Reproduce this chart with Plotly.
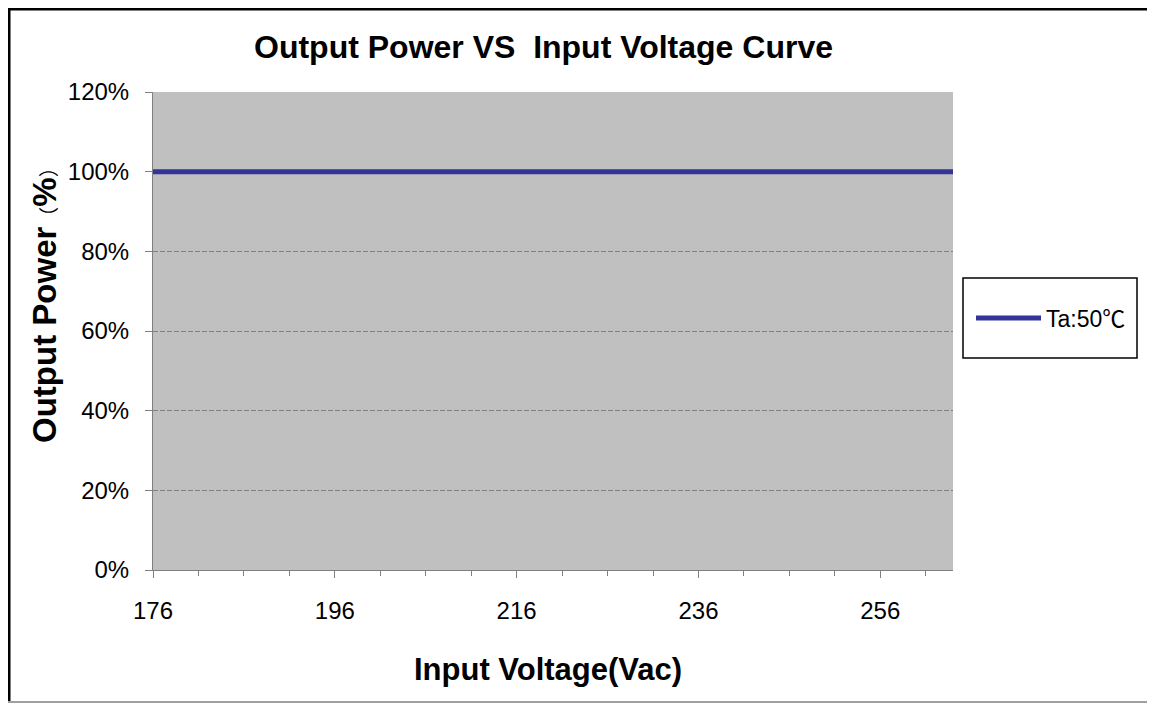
import plotly.graph_objects as go

# Data
voltage = [176, 196, 216, 236, 256, 264]
power_pct = [100, 100, 100, 100, 100, 100]
series_name = "Ta:50℃"
y_ticks = [0, 20, 40, 60, 80, 100, 120]
x_ticks = [176, 196, 216, 236, 256]

# The page places the figure 8px in from the top-left corner;
# positions below are given in screenshot pixels.
OFF = 8
W, H = 1155 - OFF, 704 - OFF
L, R, T, B = 153, 953, 92, 570
PW, PH = R - L, B - T

def px(x):
    return (x - L) / PW

def py(y):
    return (B - y) / PH

FONT = "Arial, 'Liberation Sans', 'Noto Sans CJK SC', sans-serif"

fig = go.Figure()
fig.add_trace(go.Scatter(
    x=voltage, y=power_pct, mode="lines", name=series_name,
    line=dict(color="#333399", width=5),
))

fig.update_layout(
    width=W, height=H,
    margin=dict(l=L - OFF, r=(W + OFF) - R, t=T - OFF, b=(H + OFF) - B, pad=0),
    paper_bgcolor="white",
    plot_bgcolor="#C0C0C0",
    font=dict(family=FONT, color="black", size=24),
    showlegend=True,
    legend=dict(
        x=px(971), y=py(318), xanchor="left", yanchor="middle",
        bgcolor="rgba(0,0,0,0)", borderwidth=0,
        font=dict(size=23, family=FONT), itemwidth=65,
    ),
    xaxis=dict(
        range=[176, 264], tickvals=x_ticks, ticktext=[str(v) for v in x_ticks],
        showgrid=False, zeroline=False,
        showline=True, linecolor="#808080", linewidth=1,
        ticks="outside", ticklen=7, tickcolor="#808080", tickwidth=1,
        minor=dict(dtick=5, tick0=176, ticks="outside", ticklen=5,
                   tickcolor="#808080", showgrid=False),
        tickfont=dict(size=24), ticklabelstandoff=12,
    ),
    yaxis=dict(
        range=[0, 120], tickvals=y_ticks, ticktext=[f"{v}%" for v in y_ticks],
        showgrid=True, gridcolor="#808080", griddash="5px,2px", gridwidth=1,
        zeroline=False,
        showline=True, linecolor="#808080", linewidth=1,
        ticks="outside", ticklen=7, tickcolor="#808080",
        tickfont=dict(size=24), ticklabelstandoff=11,
    ),
    shapes=[
        dict(type="line", xref="paper", yref="paper",
             x0=px(8), x1=px(1151), y0=py(9), y1=py(9),
             line=dict(color="black", width=3), layer="above"),
        dict(type="line", xref="paper", yref="paper",
             x0=px(9), x1=px(9), y0=py(8), y1=py(701),
             line=dict(color="black", width=3), layer="above"),
        dict(type="line", xref="paper", yref="paper",
             x0=px(1150), x1=px(1150), y0=py(8), y1=py(701),
             line=dict(color="black", width=3), layer="above"),
        dict(type="line", xref="paper", yref="paper",
             x0=px(8), x1=px(1151), y0=py(702), y1=py(702),
             line=dict(color="#A0A0A0", width=2), layer="above"),
        dict(type="rect", xref="paper", yref="paper",
             x0=px(963), x1=px(1137), y0=py(278), y1=py(358),
             line=dict(color="black", width=1.5)),
    ],
    annotations=[
        dict(text="<b>Output Power VS  Input Voltage Curve</b>", xref="paper", yref="paper",
             x=px(543), y=py(47), xanchor="center", yanchor="middle",
             showarrow=False, font=dict(size=32, family=FONT)),
        dict(text="<b>Input Voltage(Vac)</b>", xref="paper", yref="paper",
             x=px(548), y=py(669), xanchor="center", yanchor="middle",
             showarrow=False, font=dict(size=31, family=FONT)),
        dict(text="<b>Output Power</b><span style='font-size:20px'>（</span><b>%</b>"
                  "<span style='font-size:20px'>）</span>",
             xref="paper", yref="paper",
             x=px(44), y=py(300), xanchor="center", yanchor="middle",
             textangle=-90, showarrow=False, font=dict(size=33, family=FONT)),
    ],
)

fig.write_html("out.html")
